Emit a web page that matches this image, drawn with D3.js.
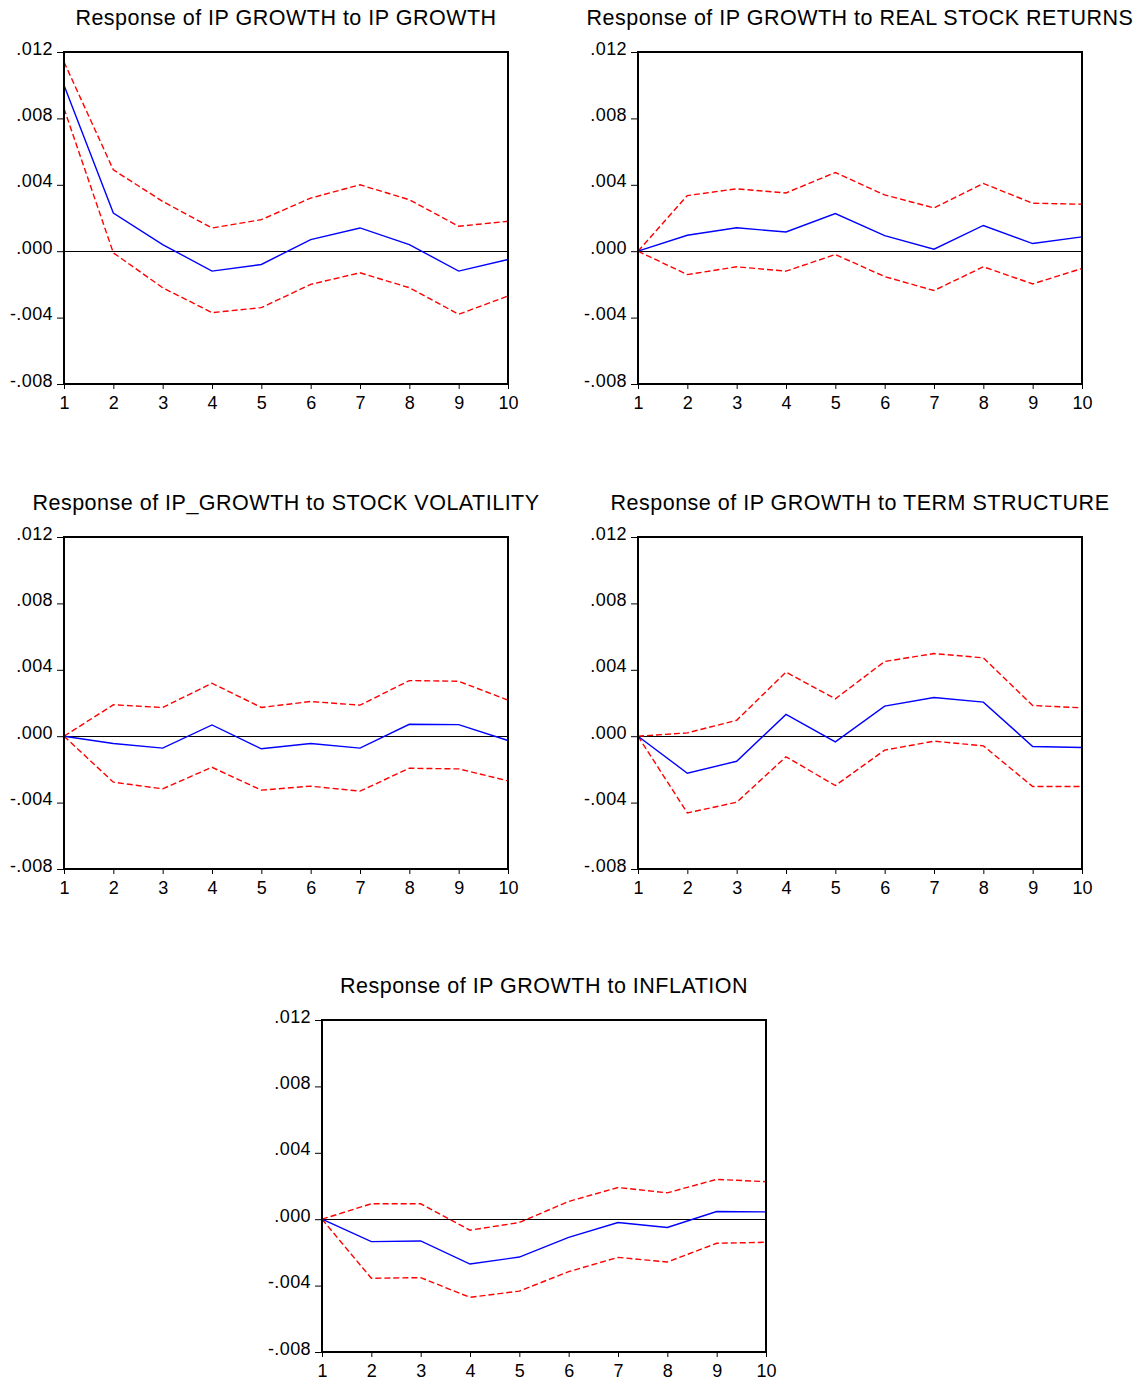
<!DOCTYPE html>
<html>
<head>
<meta charset="utf-8">
<script src="https://cdn.jsdelivr.net/npm/d3@7"></script>
<style>
  html, body { margin: 0; padding: 0; background: #fff; }
  svg { display: block; font-family: "Liberation Sans", Arial, sans-serif; }
</style>
</head>
<body>
<svg id="chart" width="1141" height="1382"></svg>
<script>
// Impulse-response horizons
const periods = [1, 2, 3, 4, 5, 6, 7, 8, 9, 10];

// Y-axis ticks and their labels
const yTickValues = [-0.008, -0.004, 0.000, 0.004, 0.008, 0.012];
const yTickLabels = ["-.008", "-.004", ".000", ".004", ".008", ".012"];

// Panel titles
const titles = [
  "Response of IP GROWTH to IP GROWTH",
  "Response of IP GROWTH to REAL STOCK RETURNS",
  "Response of IP_GROWTH to STOCK VOLATILITY",
  "Response of IP GROWTH to TERM STRUCTURE",
  "Response of IP GROWTH to INFLATION"
];

// Response of IP growth to IP growth
const ipResp  = [0.0100, 0.0023, 0.0004, -0.0012, -0.0008, 0.0007, 0.0014, 0.0004, -0.0012, -0.0005];
const ipUpper = [0.0114, 0.0049, 0.0030, 0.0014, 0.0019, 0.0032, 0.0040, 0.0031, 0.0015, 0.0018];
const ipLower = [0.0086, -0.0001, -0.0022, -0.0037, -0.0034, -0.0020, -0.0013, -0.0022, -0.0038, -0.0027];

// Response of IP growth to real stock returns
const rsrResp  = [0, 0.00096, 0.00141, 0.00116, 0.00227, 0.00094, 0.00012, 0.00155, 0.00046, 0.00086];
const rsrUpper = [0, 0.00335, 0.00376, 0.00351, 0.00474, 0.00339, 0.00261, 0.00408, 0.00289, 0.00283];
const rsrLower = [0, -0.00141, -0.00094, -0.00120, -0.00020, -0.00153, -0.00237, -0.00094, -0.00197, -0.00104];

// Response of IP growth to stock volatility
const volResp  = [0, -0.00044, -0.00072, 0.00068, -0.00076, -0.00044, -0.00072, 0.00072, 0.00070, -0.00026];
const volUpper = [0, 0.00189, 0.00173, 0.00319, 0.00173, 0.00209, 0.00187, 0.00335, 0.00331, 0.00217];
const volLower = [0, -0.00277, -0.00317, -0.00187, -0.00325, -0.00301, -0.00331, -0.00193, -0.00197, -0.00269];

// Response of IP growth to term structure
const tsResp  = [0, -0.00223, -0.00151, 0.00131, -0.00034, 0.00181, 0.00233, 0.00205, -0.00062, -0.00068];
const tsUpper = [0, 0.00020, 0.00096, 0.00386, 0.00225, 0.00450, 0.00498, 0.00472, 0.00185, 0.00171];
const tsLower = [0, -0.00462, -0.00398, -0.00124, -0.00297, -0.00084, -0.00030, -0.00058, -0.00303, -0.00303];

// Response of IP growth to inflation
const infResp  = [0, -0.00135, -0.00131, -0.00270, -0.00228, -0.00109, -0.00020, -0.00050, 0.00046, 0.00044];
const infUpper = [0, 0.00093, 0.00093, -0.00066, -0.00020, 0.00107, 0.00191, 0.00159, 0.00240, 0.00226];
const infLower = [0, -0.00356, -0.00352, -0.00471, -0.00433, -0.00316, -0.00230, -0.00258, -0.00145, -0.00139];

const panels = [
  { title: titles[0], resp: ipResp,  upper: ipUpper,  lower: ipLower,  left: 64,  top: 52 },
  { title: titles[1], resp: rsrResp, upper: rsrUpper, lower: rsrLower, left: 638, top: 52 },
  { title: titles[2], resp: volResp, upper: volUpper, lower: volLower, left: 64,  top: 537 },
  { title: titles[3], resp: tsResp,  upper: tsUpper,  lower: tsLower,  left: 638, top: 537 },
  { title: titles[4], resp: infResp, upper: infUpper, lower: infLower, left: 322, top: 1020 }
];

const plotW = 444, plotH = 332;
const svg = d3.select("#chart");

panels.forEach(p => {
  const g = svg.append("g").attr("transform", `translate(${p.left},${p.top})`);

  const x = d3.scaleLinear().domain([1, 10]).range([0, plotW]);
  const y = d3.scaleLinear().domain([-0.008, 0.012]).range([plotH, 0]);

  // Title
  g.append("text")
    .attr("x", plotW / 2)
    .attr("y", -27)
    .attr("text-anchor", "middle")
    .attr("font-size", 21.5)
    .attr("letter-spacing", 0.5)
    .attr("fill", "#000")
    .text(p.title);

  // Zero line, snapped to the pixel grid
  const y0 = Math.round(y(0)) + 0.5;
  g.append("line")
    .attr("x1", 0).attr("x2", plotW)
    .attr("y1", y0).attr("y2", y0)
    .attr("stroke", "#000").attr("stroke-width", 1);

  const line = d3.line().x((d, i) => x(periods[i])).y(d => y(d));

  // Confidence bands
  [p.upper, p.lower].forEach(band => {
    g.append("path")
      .datum(band)
      .attr("d", line)
      .attr("fill", "none")
      .attr("stroke", "#ff0000")
      .attr("stroke-width", 1.4)
      .attr("stroke-dasharray", "6,3");
  });

  // Impulse response
  g.append("path")
    .datum(p.resp)
    .attr("d", line)
    .attr("fill", "none")
    .attr("stroke", "#0000ff")
    .attr("stroke-width", 1.4);

  // Frame
  g.append("rect")
    .attr("x", 0).attr("y", 0)
    .attr("width", plotW).attr("height", plotH)
    .attr("fill", "none")
    .attr("stroke", "#000")
    .attr("stroke-width", 2);

  // Y axis
  const yAxis = d3.axisLeft(y)
    .tickValues(yTickValues)
    .tickSize(7)
    .tickPadding(4)
    .tickFormat((d, i) => yTickLabels[i]);
  const ya = g.append("g").call(yAxis);
  ya.select(".domain").remove();
  ya.selectAll(".tick line").attr("stroke", "#000").attr("stroke-width", 1);
  ya.selectAll(".tick text")
    .attr("font-size", 18)
    .attr("letter-spacing", 0.4)
    .attr("font-family", "Liberation Sans, Arial, sans-serif")
    .attr("fill", "#000")
    .attr("dy", "0.12em");

  // X axis
  const xAxis = d3.axisBottom(x)
    .tickValues(periods)
    .tickSize(5)
    .tickPadding(7)
    .tickFormat(d3.format("d"));
  const xa = g.append("g").attr("transform", `translate(0,${plotH})`).call(xAxis);
  xa.select(".domain").remove();
  xa.selectAll(".tick line").attr("stroke", "#000").attr("stroke-width", 1);
  xa.selectAll(".tick text")
    .attr("font-size", 18)
    .attr("font-family", "Liberation Sans, Arial, sans-serif")
    .attr("fill", "#000");
});
</script>
</body>
</html>
